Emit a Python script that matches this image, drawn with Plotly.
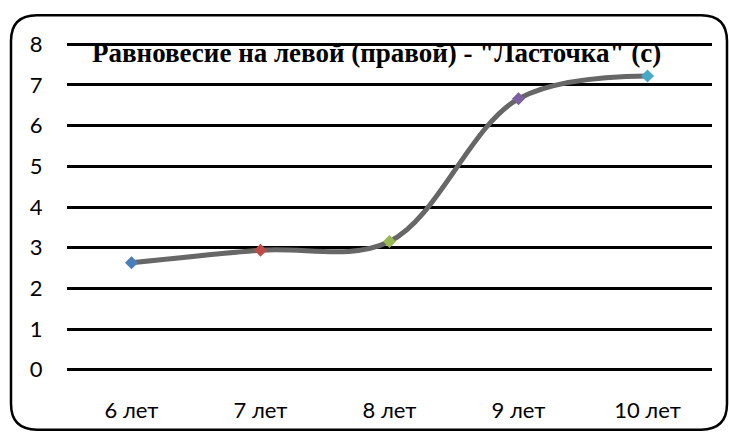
import plotly.graph_objects as go

# Данные: возраст и время удержания равновесия (с)
ages = ["6 лет", "7 лет", "8 лет", "9 лет", "10 лет"]
seconds = [2.63, 2.94, 3.15, 6.66, 7.22]
point_colors = ["#4a7ebb", "#be4b48", "#98b954", "#7d60a0", "#46aac5"]
y_ticks = [0, 1, 2, 3, 4, 5, 6, 7, 8]

W, H = 729, 435
L, R, T, B = 67, 17, 43, 62

fig = go.Figure()
fig.add_trace(go.Scatter(
    x=ages, y=seconds,
    mode="lines",
    line=dict(color="#676767", width=5, shape="spline", smoothing=1.0),
    hoverinfo="skip", showlegend=False,
))
fig.add_trace(go.Scatter(
    x=ages, y=seconds,
    mode="markers",
    marker=dict(symbol="diamond", size=10, color=point_colors),
    showlegend=False,
))


def px_x(p):
    return (p - L) / (W - L - R)


def px_y(p):
    return 1 - (p - T) / (H - T - B)


# Рамка со скруглёнными углами вокруг диаграммы
x0, x1, y0, y1, r = 11, 727, 15, 432, 26
path = (
    f"M {px_x(x0 + r)},{px_y(y0)} L {px_x(x1 - r)},{px_y(y0)} "
    f"Q {px_x(x1)},{px_y(y0)} {px_x(x1)},{px_y(y0 + r)} "
    f"L {px_x(x1)},{px_y(y1 - r)} "
    f"Q {px_x(x1)},{px_y(y1)} {px_x(x1 - r)},{px_y(y1)} "
    f"L {px_x(x0 + r)},{px_y(y1)} "
    f"Q {px_x(x0)},{px_y(y1)} {px_x(x0)},{px_y(y1 - r)} "
    f"L {px_x(x0)},{px_y(y0 + r)} "
    f"Q {px_x(x0)},{px_y(y0)} {px_x(x0 + r)},{px_y(y0)} Z"
)
fig.add_shape(type="path", path=path, xref="paper", yref="paper",
              line=dict(color="black", width=2.5), layer="above")

fig.add_annotation(
    text='Равновесие на левой (правой) - "Ласточка" (с)',
    xref="paper", yref="paper", x=px_x(376), y=px_y(53),
    xanchor="center", yanchor="middle", showarrow=False,
    font=dict(family="Liberation Serif", size=27, color="black", weight="bold"),
)

fig.update_layout(
    width=W, height=H,
    margin=dict(l=L, r=R, t=T, b=B),
    paper_bgcolor="white", plot_bgcolor="white",
    font=dict(family="Lato", size=22, color="black"),
)
fig.update_xaxes(
    type="category", range=[-0.5, 4.5],
    showgrid=False, zeroline=False, showline=False,
    ticks="outside", ticklen=20, tickcolor="rgba(0,0,0,0)",
)
fig.update_yaxes(
    range=[-0.03, 8.03], tickvals=y_ticks,
    showgrid=True, gridcolor="black", gridwidth=2.5,
    zeroline=False, showline=False,
    ticks="outside", ticklen=19, tickcolor="rgba(0,0,0,0)",
)

fig.write_html("out.html")
